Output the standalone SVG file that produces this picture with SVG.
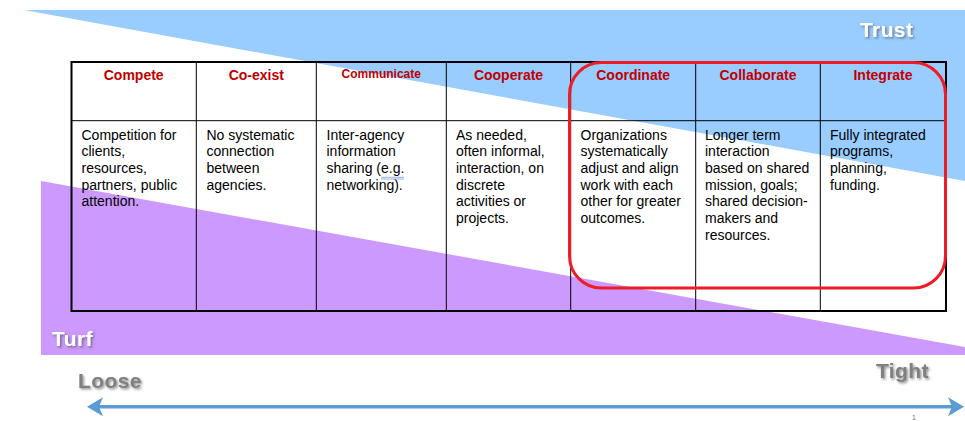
<svg xmlns="http://www.w3.org/2000/svg" width="965" height="421" viewBox="0 0 965 421">
<defs>
<style>
.hd{font-family:"Liberation Sans",Arial,sans-serif;font-weight:bold;font-size:14px;fill:#C00000;text-anchor:middle}
.bd{font-family:"Liberation Sans",Arial,sans-serif;font-size:14px;fill:#000}
.big{font-family:"Liberation Sans",Arial,sans-serif;font-weight:bold;font-size:21px;letter-spacing:0.4px;filter:url(#sh)}
.grid{stroke:#000;stroke-width:1;fill:none}
</style>
<filter id="sh" x="-20%" y="-40%" width="150%" height="200%">
<feDropShadow dx="1.5" dy="1.5" stdDeviation="1" flood-color="#444" flood-opacity="0.6"/>
</filter>
<marker id="ah" viewBox="0 -10 16 20" refX="5" refY="0" markerWidth="16" markerHeight="20" markerUnits="userSpaceOnUse" orient="auto-start-reverse">
<path d="M16,0 L0,-9.5 L4,0 L0,9.5 Z" fill="#5B9BD5"/>
</marker>
</defs>
<rect width="965" height="421" fill="#fff"/>
<g id="bands">
<polygon points="24,10 965,10 965,181" fill="#99CCFF"/>
<polygon points="41,181 965,347 965,355 41,355" fill="#CC99FF"/>
</g>
<g id="table">
<line class="grid" x1="71" y1="120.7" x2="946" y2="120.7"/>
<line class="grid" x1="196.3" y1="62" x2="196.3" y2="311"/>
<line class="grid" x1="316.3" y1="62" x2="316.3" y2="311"/>
<line class="grid" x1="446.3" y1="62" x2="446.3" y2="311"/>
<line class="grid" x1="570.7" y1="62" x2="570.7" y2="311"/>
<line class="grid" x1="695.7" y1="62" x2="695.7" y2="311"/>
<line class="grid" x1="820.3" y1="62" x2="820.3" y2="311"/>
<rect x="71.5" y="62" width="874.5" height="249" fill="none" stroke="#000" stroke-width="2"/>
</g>
<g id="col-compete">
<text class="hd" x="133.7" y="80">Compete</text>
<text class="bd" x="81.5" y="139.5">Competition for<tspan x="81.5" dy="16.7">clients,</tspan><tspan x="81.5" dy="16.7">resources,</tspan><tspan x="81.5" dy="16.7">partners, public</tspan><tspan x="81.5" dy="16.7">attention.</tspan></text>
</g>
<g id="col-coexist">
<text class="hd" x="256.3" y="80">Co-exist</text>
<text class="bd" x="206.5" y="139.5">No systematic<tspan x="206.5" dy="16.7">connection</tspan><tspan x="206.5" dy="16.7">between</tspan><tspan x="206.5" dy="16.7">agencies.</tspan></text>
</g>
<g id="col-communicate">
<text class="hd" x="381.3" y="78" style="font-size:12px">Communicate</text>
<text class="bd" x="326.5" y="139.5">Inter-agency<tspan x="326.5" dy="16.7">information</tspan><tspan x="326.5" dy="16.7">sharing (e.g.</tspan><tspan x="326.5" dy="16.7">networking).</tspan></text>
<line x1="381" y1="177.3" x2="404" y2="177.3" stroke="#7B9FE0" stroke-width="0.8"/>
<line x1="381" y1="179" x2="404" y2="179" stroke="#7B9FE0" stroke-width="0.8"/>
</g>
<g id="col-cooperate">
<text class="hd" x="508.5" y="80">Cooperate</text>
<text class="bd" x="456" y="139.5">As needed,<tspan x="456" dy="16.7">often informal,</tspan><tspan x="456" dy="16.7">interaction, on</tspan><tspan x="456" dy="16.7">discrete</tspan><tspan x="456" dy="16.7">activities or</tspan><tspan x="456" dy="16.7">projects.</tspan></text>
</g>
<g id="col-coordinate">
<text class="hd" x="633.2" y="80">Coordinate</text>
<text class="bd" x="580.5" y="139.5">Organizations<tspan x="580.5" dy="16.7">systematically</tspan><tspan x="580.5" dy="16.7">adjust and align</tspan><tspan x="580.5" dy="16.7">work with each</tspan><tspan x="580.5" dy="16.7">other for greater</tspan><tspan x="580.5" dy="16.7">outcomes.</tspan></text>
</g>
<g id="col-collaborate">
<text class="hd" x="758" y="80">Collaborate</text>
<text class="bd" x="705" y="139.5">Longer term<tspan x="705" dy="16.7">interaction</tspan><tspan x="705" dy="16.7">based on shared</tspan><tspan x="705" dy="16.7">mission, goals;</tspan><tspan x="705" dy="16.7">shared decision-</tspan><tspan x="705" dy="16.7">makers and</tspan><tspan x="705" dy="16.7">resources.</tspan></text>
</g>
<g id="col-integrate">
<text class="hd" x="883" y="80">Integrate</text>
<text class="bd" x="830" y="139.5">Fully integrated<tspan x="830" dy="16.7">programs,</tspan><tspan x="830" dy="16.7">planning,</tspan><tspan x="830" dy="16.7">funding.</tspan></text>
</g>
<g id="highlight">
<rect x="569.5" y="62.5" width="376" height="225.5" rx="32" ry="32" fill="none" stroke="#EE1C25" stroke-width="3"/>
</g>
<g id="labels">
<text class="big" x="860" y="37" fill="#fff">Trust</text>
<text class="big" x="52" y="346" fill="#fff">Turf</text>
<text class="big" x="78" y="388" fill="#808080">Loose</text>
<text class="big" x="876" y="378" fill="#808080">Tight</text>
<text x="912" y="420" style="font-family:'Liberation Sans',Arial,sans-serif;font-size:7px;fill:#777">1</text>
</g>
<g id="connectors">
<line x1="98" y1="406.7" x2="953" y2="406.7" stroke="#5B9BD5" stroke-width="3.5" marker-start="url(#ah)" marker-end="url(#ah)"/>
</g>
</svg>
